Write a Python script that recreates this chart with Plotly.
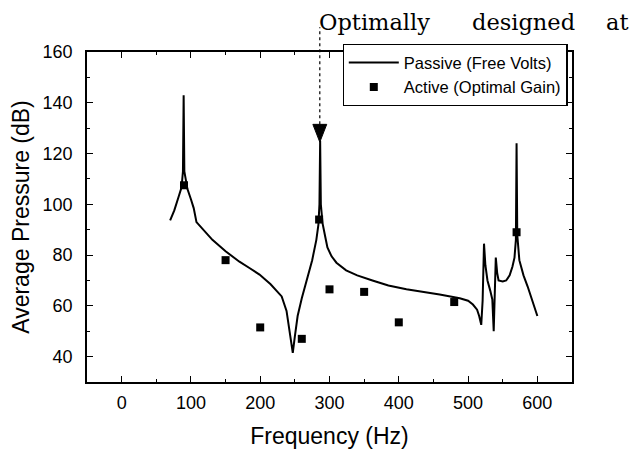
import plotly.graph_objects as go

# ---- data ----
passive_freq = [70, 76, 82, 86.5, 88.5, 89.5, 90.5, 92.5, 95, 100, 104, 108, 113, 122, 131,
                150, 170, 185, 199, 215, 231, 238, 244, 247, 250, 254, 260, 267, 275, 281,
                284, 285.5, 286.5, 287.5, 290, 294, 297, 303, 310, 324, 340, 362, 385, 411,
                435, 459, 488, 500, 507, 513, 516, 519, 521, 523, 525, 528, 532, 535, 537,
                538.5, 540, 542, 544, 550, 555, 560, 564, 567, 569, 570, 571, 574, 580, 586,
                593, 600]
passive_db = [93.7, 97.6, 102.8, 106.7, 113, 143, 113, 109, 106, 102, 98.5, 93, 91.5, 88.6, 86,
              81.5, 77.4, 74.8, 72.3, 68.5, 63.7, 58, 48, 41.5, 48, 56, 63, 70.4, 78, 86,
              92, 100, 125, 100, 92.5, 87, 83, 79.5, 77, 74, 72, 70, 68, 66.5,
              65.5, 64.5, 63, 62, 60.5, 58.5, 56, 52.5, 62, 84.5, 76, 70, 66, 62.5, 50,
              62, 79, 73, 70, 69.6, 70, 72, 75.4, 79, 86, 124, 88, 78, 72, 67.6,
              62, 56]

active_freq = [90, 150, 200, 260, 285, 300, 350, 400, 480, 570]
active_db = [107.5, 78, 51.5, 47, 94, 66.5, 65.5, 53.5, 61.5, 89]

x_ticks = [0, 100, 200, 300, 400, 500, 600]
y_ticks = [40, 60, 80, 100, 120, 140, 160]
X_RANGE = [-50, 650]
Y_RANGE = [30, 160]

annot_words = ["Optimally", "designed", "at"]
ARROW_FREQ = 286
ARROW_TIP_DB = 124.5
ARROW_BASE_DB = 131.5

FONT = "Liberation Sans, Arial, sans-serif"

fig = go.Figure()
fig.add_trace(go.Scatter(
    x=passive_freq, y=passive_db, mode="lines", name="Passive (Free Volts)",
    line=dict(color="black", width=2)))
fig.add_trace(go.Scatter(
    x=active_freq, y=active_db, mode="markers", name="Active (Optimal Gain)",
    marker=dict(symbol="square", size=8, color="black")))

axis_common = dict(
    showline=True, linecolor="black", linewidth=1.5, mirror="ticks",
    ticks="inside", ticklen=6, tickwidth=1.2, tickcolor="black",
    showgrid=False, zeroline=False,
    tickfont=dict(family=FONT, size=18, color="black"),
)

fig.update_xaxes(range=X_RANGE, tickvals=x_ticks, ticklabelstandoff=4,
                 minor=dict(dtick=50, ticks="inside", ticklen=3, tickcolor="black"),
                 title=dict(text="Frequency (Hz)", font=dict(family=FONT, size=23, color="black"),
                            standoff=16),
                 automargin=False, **axis_common)
fig.update_yaxes(range=Y_RANGE, tickvals=y_ticks, ticklabelstandoff=9,
                 minor=dict(dtick=10, ticks="inside", ticklen=3, tickcolor="black"),
                 title=dict(text="Average Pressure (dB)", font=dict(family=FONT, size=23, color="black"),
                            standoff=7),
                 automargin=False, **axis_common)

# annotation text (serif) above the plot
word_x = [0.475, 0.790, 1.066]
for w, xp in zip(annot_words, word_x):
    fig.add_annotation(text=w, xref="paper", yref="paper", x=xp, y=1.092,
                       xanchor="left", yanchor="middle", showarrow=False,
                       font=dict(family="DejaVu Serif", size=22.5, color="black"))

# dotted pointer + arrow head
span = Y_RANGE[1] - Y_RANGE[0]
fig.add_shape(type="line", xref="x", yref="paper",
              x0=ARROW_FREQ, x1=ARROW_FREQ,
              y0=(ARROW_BASE_DB - Y_RANGE[0]) / span, y1=1.075,
              line=dict(color="black", width=1.2, dash="dot"))
fig.add_shape(type="path", xref="x", yref="y",
              path=f"M {ARROW_FREQ-10},{ARROW_BASE_DB} L {ARROW_FREQ+10},{ARROW_BASE_DB} "
                   f"L {ARROW_FREQ},{ARROW_TIP_DB} Z",
              fillcolor="black", line=dict(color="black", width=1))

fig.update_layout(
    width=634, height=450,
    margin=dict(l=87, r=62, t=52, b=68),
    paper_bgcolor="white", plot_bgcolor="white",
    showlegend=True,
    legend=dict(x=0.527, y=1.024, xanchor="left", yanchor="top",
                bgcolor="white", bordercolor="black", borderwidth=1.2,
                font=dict(family=FONT, size=16.5, color="black"),
                tracegroupgap=0, itemwidth=50),
)

fig.write_html("out.html", config={"displayModeBar": False},
               post_script="document.body.style.margin='0';")
